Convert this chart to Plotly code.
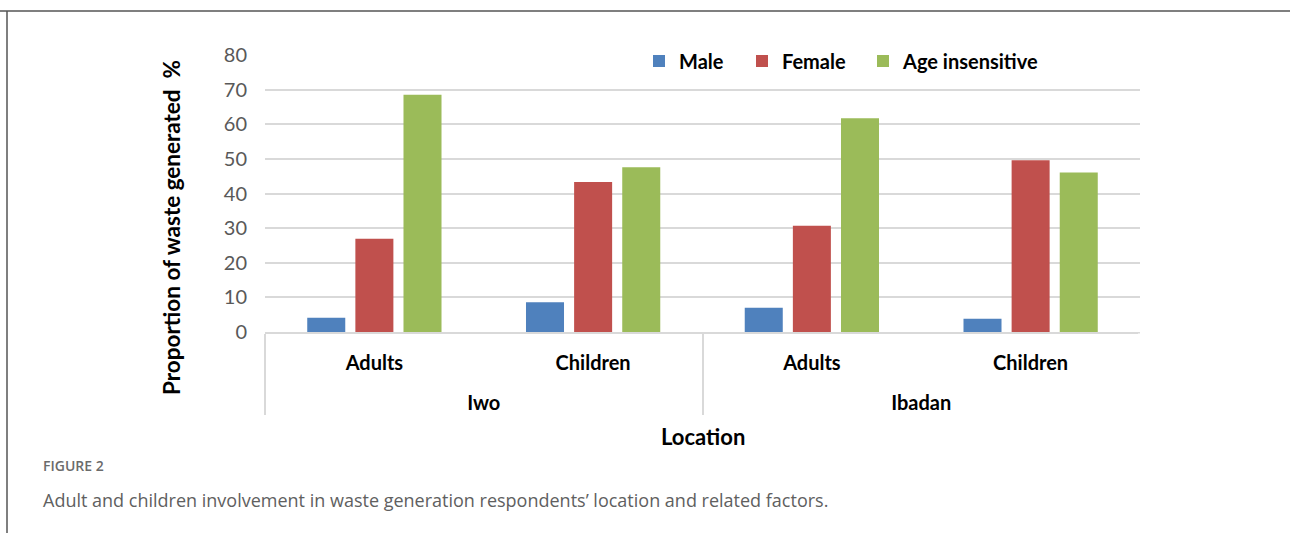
import plotly.graph_objects as go

locations = ["Iwo", "Iwo", "Ibadan", "Ibadan"]
groups = ["Adults", "Children", "Adults", "Children"]
male = [4.1, 8.6, 7.0, 3.8]
female = [26.9, 43.3, 30.7, 49.6]
age_insensitive = [68.5, 47.6, 61.7, 46.1]
y_ticks = [0, 10, 20, 30, 40, 50, 60, 70, 80]

series = [("Male", male, "#4F81BD"), ("Female", female, "#C0504D"),
          ("Age insensitive", age_insensitive, "#9BBB59")]
legend_ids = ["legend", "legend2", "legend3"]

# plot area in pixels
L, R, T, B = 265, 1140, 55, 332
W, H = R - L, B - T
def px(x):
    return (x - L) / W
def py(y):
    return (B - y) / H

# second line adds space between the two category levels
group_labels = [g + "<br> " for g in groups]

fig = go.Figure()
for (name, vals, col), lg in zip(series, legend_ids):
    fig.add_trace(go.Bar(x=[locations, group_labels], y=vals, name=name, legend=lg,
                         marker=dict(color=col, line=dict(width=0))))

FONT = "Lato"
leg_font = dict(family=FONT, size=20, color="#000", weight="bold")
legend_text_x = [681, 784, 905]
legs = {}
for lg, tx in zip(legend_ids, legend_text_x):
    legs[lg] = dict(orientation="h", x=px(tx - 42), xanchor="left", y=py(61), yanchor="middle",
                    bgcolor="rgba(0,0,0,0)", font=leg_font, itemwidth=30)

fig.update_layout(
    width=1290, height=533,
    margin=dict(l=L, r=1290 - R, t=T, b=533 - B),
    paper_bgcolor="white", plot_bgcolor="white",
    barmode="group", bargap=0.34, bargroupgap=0.21,
    font=dict(family=FONT, color="#000000"),
    showlegend=True,
    **legs,
)
fig.update_yaxes(range=[0, 80], tickvals=y_ticks, showgrid=True, gridcolor="#D9D9D9", gridwidth=1.5,
                 zeroline=False, showline=False, ticks="", ticklabelstandoff=17,
                 tickfont=dict(family=FONT, size=20, color="#595959"))
fig.update_xaxes(showline=True, linecolor="#D9D9D9", linewidth=1.5, showgrid=False,
                 ticks="", showdividers=True, dividercolor="#D9D9D9", dividerwidth=1.5,
                 ticklabelstandoff=12,
                 tickfont=dict(family=FONT, size=20, color="#000", weight="bold"))

# axis titles
fig.add_annotation(xref="paper", yref="paper", x=px(171), y=py(228), textangle=-90,
                   xanchor="center", yanchor="middle",
                   showarrow=False, text="Proportion of waste generated  %",
                   font=dict(family=FONT, size=22.5, color="#000", weight="bold"))
fig.add_annotation(xref="paper", yref="paper", x=px(703), y=py(436), showarrow=False,
                   xanchor="center", yanchor="middle",
                   text="Location", font=dict(family=FONT, size=22, color="#000", weight="bold"))

# hide right-hand divider (not present in reference)
fig.add_shape(type="line", xref="paper", yref="paper", x0=1.0, x1=1.0, y0=py(333.5), y1=py(440),
              line=dict(color="white", width=4))

# frame around figure panel
fig.add_shape(type="line", xref="paper", yref="paper", x0=px(0), x1=px(1290),
              y0=py(11), y1=py(11), line=dict(color="#555555", width=1.5))
fig.add_shape(type="line", xref="paper", yref="paper", x0=px(7), x1=px(7),
              y0=py(11), y1=py(533), line=dict(color="#555555", width=1.5))

fig.add_annotation(xref="paper", yref="paper", x=px(41), y=py(465), xanchor="left",
                   yanchor="middle", showarrow=False, text="FIGURE 2",
                   font=dict(family="Open Sans", size=14, color="#6b6b6b", weight=600))
fig.add_annotation(xref="paper", yref="paper", x=px(41), y=py(500), xanchor="left",
                   yanchor="middle", showarrow=False,
                   text="Adult and children involvement in waste generation respondents’ location and related factors.",
                   font=dict(family="Open Sans", size=18, color="#606060"))

fig.write_html("out.html")
